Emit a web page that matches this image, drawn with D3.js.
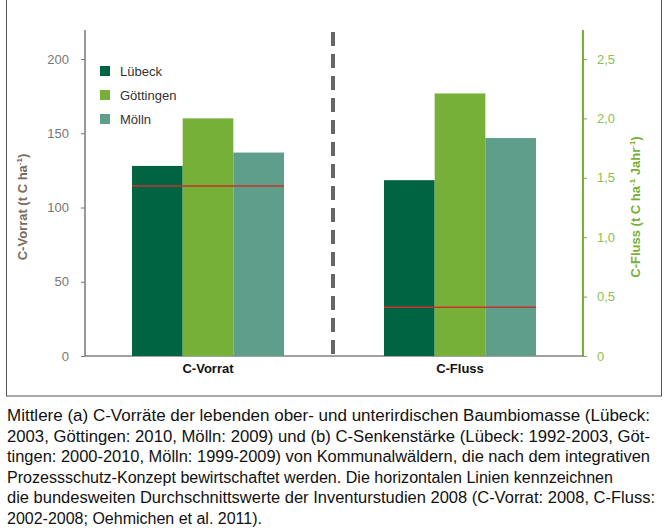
<!DOCTYPE html>
<html><head><meta charset="utf-8">
<script src="https://cdn.jsdelivr.net/npm/d3@7"></script>
<style>body{margin:0;background:#fff;font-family:"Liberation Sans",Arial,sans-serif}</style>
</head><body>
<script>
var sites = ['Lübeck', 'Göttingen', 'Mölln'];
var colors = ['#006442', '#76b039', '#5e9e8a'];
var vorrat = [128, 160, 137];
var fluss = [1.48, 2.21, 1.835];
var vorratMean = 114.5;
var flussMean = 0.41;
var leftTicks = [0, 50, 100, 150, 200];
var rightTicks = [0, 0.5, 1, 1.5, 2, 2.5];
var caption = [
  'Mittlere (a) C-Vorräte der lebenden ober- und unterirdischen Baumbiomasse (Lübeck:',
  '2003, Göttingen: 2010, Mölln: 2009) und (b) C-Senkenstärke (Lübeck: 1992-2003, Göt-',
  'tingen: 2000-2010, Mölln: 1999-2009) von Kommunalwäldern, die nach dem integrativen',
  'Prozessschutz-Konzept bewirtschaftet werden. Die horizontalen Linien kennzeichnen',
  'die bundesweiten Durchschnittswerte der Inventurstudien 2008 (C-Vorrat: 2008, C-Fluss:',
  '2002-2008; Oehmichen et al. 2011).'
];
var captionWidths = [643, 643, 643, 606, 648, 0];

var svg = d3.select('body').append('svg').attr('width', 669).attr('height', 532);

svg.append('rect').attr('x', 6.5).attr('y', -2).attr('width', 655).attr('height', 398)
  .style('fill', 'none').style('stroke', '#555').style('stroke-width', 1);

var x0 = 85, x1 = 583, yBase = 356, yTop = 59;
var yL = d3.scaleLinear().domain([0, 200]).range([yBase, yTop]);
var yR = d3.scaleLinear().domain([0, 2.5]).range([yBase, yTop]);
var band = d3.scaleBand().domain(sites).range([0, 152]);

// left axis
var gl = svg.append('g').attr('transform', 'translate(' + x0 + ',0)')
  .call(d3.axisLeft(yL).tickValues(leftTicks).tickSize(4).tickPadding(12));
gl.select('.domain').attr('d', 'M0,30V' + yBase).style('stroke', '#777').style('stroke-width', 1.5);
gl.selectAll('line').style('stroke', '#777');
gl.selectAll('text').style('font-size', '13px').style('fill', '#777').style('font-family', 'Liberation Sans, Arial');

// right axis
var gr = svg.append('g').attr('transform', 'translate(' + x1 + ',0)')
  .call(d3.axisRight(yR).tickValues(rightTicks).tickSize(4).tickPadding(10)
    .tickFormat(function(d) { return d === 0 ? '0' : d3.format('.1f')(d).replace('.', ','); }));
gr.select('.domain').attr('d', 'M0,30V' + yBase).style('stroke', '#76b039').style('stroke-width', 2);
gr.selectAll('line').style('stroke', '#76b039');
gr.selectAll('text').style('font-size', '13px').style('fill', '#8cbf52').style('font-family', 'Liberation Sans, Arial');

// baseline
svg.append('line').attr('x1', x0).attr('x2', x1).attr('y1', yBase).attr('y2', yBase)
  .style('stroke', '#444').style('stroke-width', 1);

function group(vals, mean, y, gx, label) {
  var g = svg.append('g').attr('transform', 'translate(' + gx + ',0)');
  g.selectAll('rect').data(vals).enter().append('rect')
    .attr('x', function(d, i) { return band(sites[i]); })
    .attr('width', band.bandwidth())
    .attr('y', function(d) { return y(d); })
    .attr('height', function(d) { return yBase - y(d); })
    .style('fill', function(d, i) { return colors[i]; });
  g.append('line').attr('x1', 0).attr('x2', 152).attr('y1', y(mean)).attr('y2', y(mean))
    .style('stroke', '#c8322d').style('stroke-width', 1.5);
  g.append('text').attr('x', 76).attr('y', 373).text(label)
    .style('text-anchor', 'middle').style('font-weight', 'bold').style('font-size', '13px').style('fill', '#111');
}
group(vorrat, vorratMean, yL, 132, 'C-Vorrat');
group(fluss, flussMean, yR, 384, 'C-Fluss');

// divider
svg.append('line').attr('x1', 333).attr('x2', 333).attr('y1', 32).attr('y2', 362)
  .style('stroke', '#666').style('stroke-width', 4).style('stroke-dasharray', '14,8');

// axis titles
svg.append('text').attr('transform', 'translate(27,207) rotate(-90)').text('C-Vorrat (t C ha')
  .style('text-anchor', 'middle').style('font-weight', 'bold').style('font-size', '13px').style('fill', '#7a6a60')
  .call(function(t) {
    t.append('tspan').attr('dy', -5).style('font-size', '8px').text('-1');
    t.append('tspan').attr('dy', 5).text(')');
  });
svg.append('text').attr('transform', 'translate(640,207) rotate(-90)').text('C-Fluss (t C ha')
  .style('text-anchor', 'middle').style('font-weight', 'bold').style('font-size', '13px').style('fill', '#76b039')
  .call(function(t) {
    t.append('tspan').attr('dy', -5).style('font-size', '8px').text('-1');
    t.append('tspan').attr('dy', 5).text(' Jahr');
    t.append('tspan').attr('dy', -5).style('font-size', '8px').text('-1');
    t.append('tspan').attr('dy', 5).text(')');
  });

// legend
var lg = svg.append('g').attr('transform', 'translate(100,66)');
sites.forEach(function(s, i) {
  lg.append('rect').attr('x', 0).attr('y', i * 24).attr('width', 10).attr('height', 10).style('fill', colors[i]);
  lg.append('text').attr('x', 20).attr('y', i * 24 + 10).text(s).style('font-size', '13px').style('fill', '#333');
});

// caption
svg.append('g').selectAll('text').data(caption).enter().append('text')
  .attr('x', 7).attr('y', function(d, i) { return 421 + i * 20.6; })
  .text(function(d) { return d; })
  .each(function(d, i) {
    if (captionWidths[i]) d3.select(this).attr('textLength', captionWidths[i]).attr('lengthAdjust', 'spacingAndGlyphs');
  })
  .style('font-size', '16px').style('fill', '#111');
</script>
</body></html>
